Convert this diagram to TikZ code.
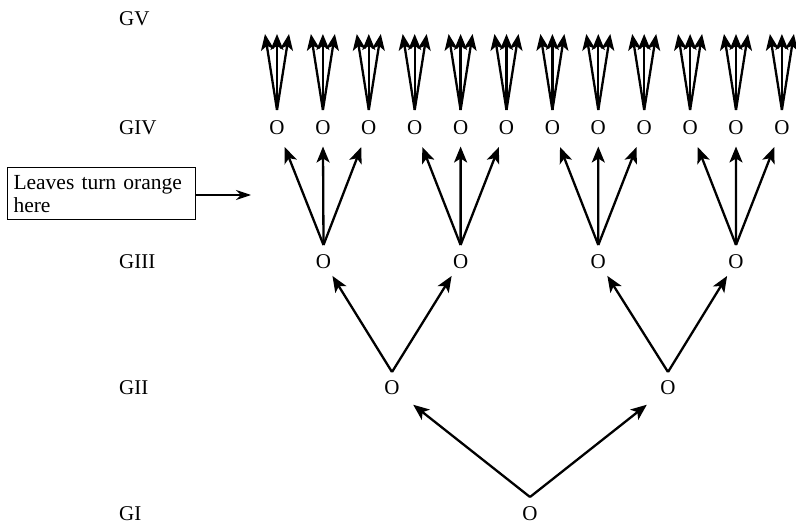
\documentclass[tikz,border=0pt]{standalone}
\usepackage{fontspec}
\setmainfont{Liberation Serif}
\usetikzlibrary{arrows.meta}
\begin{document}
\begin{tikzpicture}[x=1pt,y=-1pt,
  txt/.style={inner sep=0pt,font=\fontsize{21}{23}\selectfont},
  lbl/.style={txt,anchor=west},
  gen/.style={line width=2.3pt,-{Stealth[length=16pt,width=13pt,inset=4pt]}},
  note/.style={draw,line width=1pt,anchor=north west,text width=176pt,inner xsep=6pt,inner ysep=7.5pt,align=left,font=\fontsize{21.5}{23}\selectfont},
  pointer/.style={line width=1.1pt,-{Stealth[length=15pt,width=10pt,inset=5pt]}}
]
\useasboundingbox (0,0) rectangle (796,524);
% generation labels
\node[lbl] (lV) at (119,19) {GV};
\node[lbl] (lIV) at (119,128) {GIV};
\node[lbl] (lIII) at (119,261.5) {GIII};
\node[lbl] (lII) at (119,388) {GII};
\node[lbl] (lI) at (119,514) {GI};
% GI
\node[txt] (g1) at (530,514) {O};
\coordinate (a1) at ([yshift=17pt]g1.center);
% GII
\node[txt] (g2-1) at (392,388) {O};
\node[txt] (g2-2) at (668,388) {O};
\foreach \j in {1,2}
  \coordinate (a2-\j) at ([yshift=16pt]g2-\j.center);
% GIII
\foreach \i/\x in {1/323.5,2/460.6,3/598.3,4/736}{
  \node[txt] (g3-\i) at (\x,261.5) {O};
  \coordinate (a3-\i) at ([yshift=16.5pt]g3-\i.center);
}
% GIV and GV tips
\foreach \i in {1,...,12}{
  \pgfmathsetmacro{\xx}{277+45.9*(\i-1)}
  \node[txt] (g4-\i) at (\xx,127.5) {O};
  \coordinate (a4-\i) at ([yshift=17.5pt]g4-\i.center);
  \coordinate (v\i-1) at (\xx-12,34);
  \coordinate (v\i-2) at (\xx,34);
  \coordinate (v\i-3) at (\xx+12,34);
}
% GI -> GII
\foreach \j in {1,2}
  \draw[gen,shorten >=27pt] (a1) -- (g2-\j.center);
% GII -> GIII
\draw[gen,shorten >=17pt] (a2-1) -- (g3-1.center);
\draw[gen,shorten >=17pt] (a2-1) -- (g3-2.center);
\draw[gen,shorten >=17pt] (a2-2) -- (g3-3.center);
\draw[gen,shorten >=17pt] (a2-2) -- (g3-4.center);
% GIII -> GIV
\foreach \p/\a/\b/\c in {1/1/2/3,2/4/5/6,3/7/8/9,4/10/11/12}{
  \draw[gen,shorten >=21pt] (a3-\p) -- (g4-\a.center);
  \draw[gen,shorten >=19pt] (a3-\p) -- (g4-\b.center);
  \draw[gen,shorten >=21pt] (a3-\p) -- (g4-\c.center);
}
% GIV -> GV
\foreach \i in {1,...,12}
  \foreach \k in {1,2,3}
    \draw[gen] (a4-\i) -- (v\i-\k);
% note
\node[note] (box) at (7,167) {Leaves turn orange\\here};
\coordinate (ptip) at (251,195);
\draw[pointer] (box.east |- ptip) -- (ptip);
\end{tikzpicture}
\end{document}
